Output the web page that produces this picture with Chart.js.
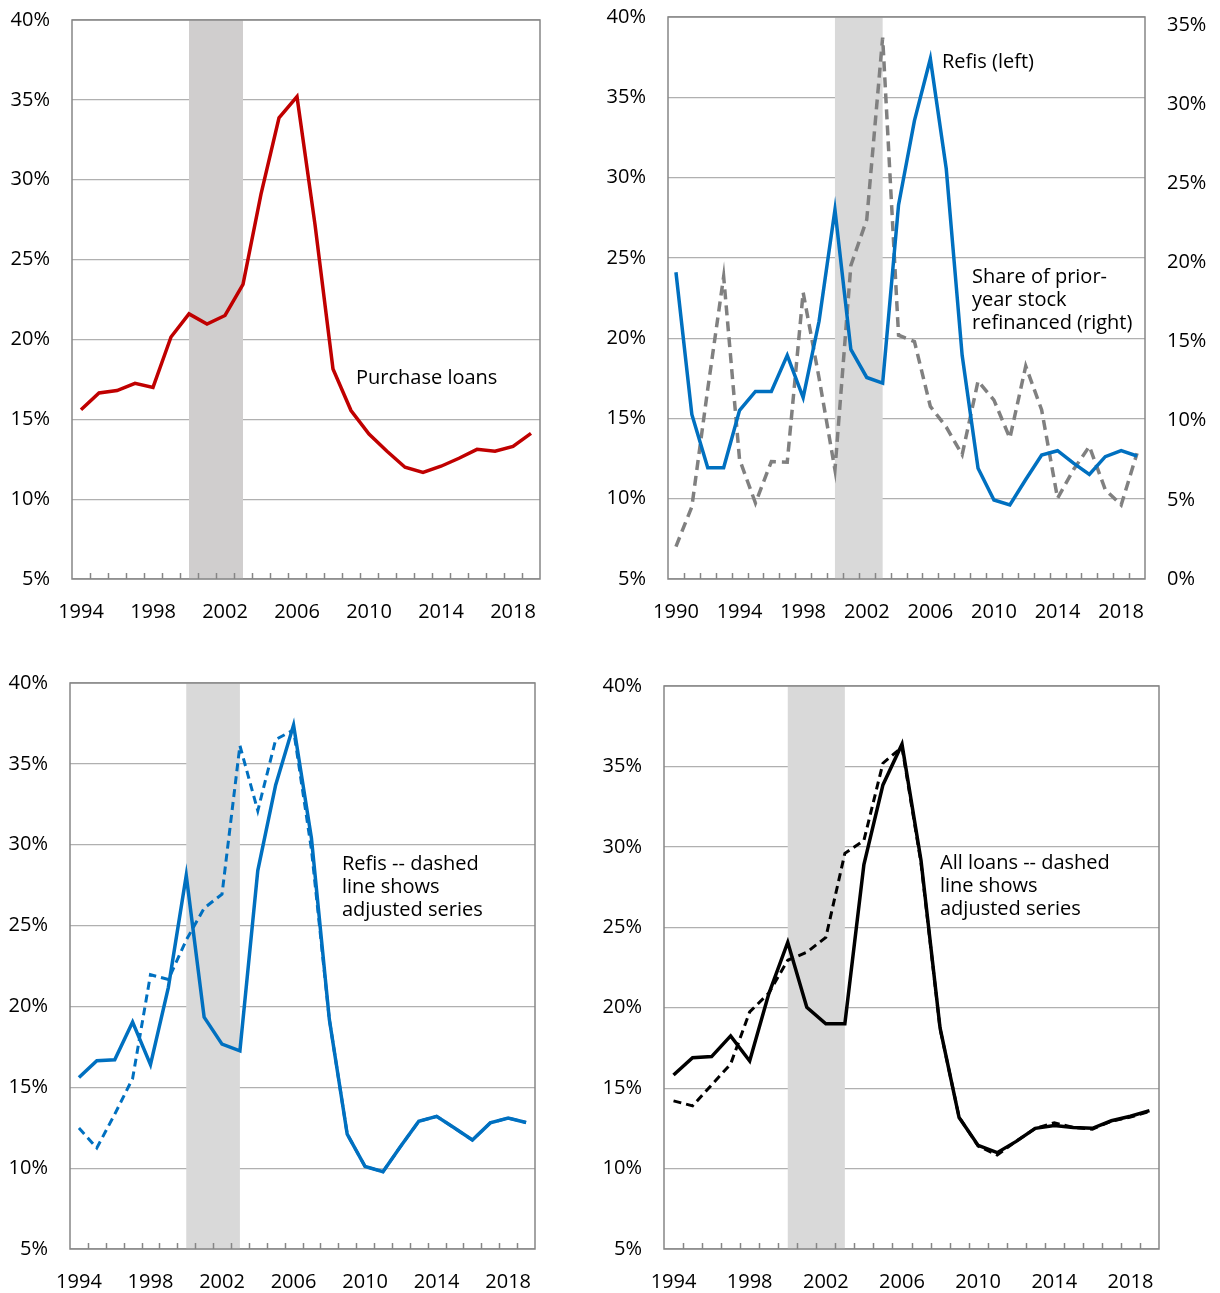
<!DOCTYPE html>
<html>
<head>
<meta charset="utf-8">
<script src="https://cdn.jsdelivr.net/npm/chart.js@4.4.1/dist/chart.umd.min.js"></script>
<style>
  body { margin: 0; background: #fff; }
  #wrap { position: relative; width: 1220px; height: 1293px; }
  canvas { position: absolute; }
</style>
</head>
<body>
<div id="wrap">
  <canvas id="c1" width="560" height="630" style="left:0;top:0"></canvas>
  <canvas id="c2" width="620" height="630" style="left:600px;top:0"></canvas>
  <canvas id="c3" width="560" height="653" style="left:0;top:640px"></canvas>
  <canvas id="c4" width="620" height="653" style="left:600px;top:640px"></canvas>
</div>
<script>
const years94 = ["1994","1995","1996","1997","1998","1999","2000","2001","2002","2003","2004","2005","2006",
    "2007","2008","2009","2010","2011","2012","2013","2014","2015","2016","2017","2018","2019"];
const years90 = ["1990","1991","1992","1993"].concat(years94);

const leftTicks = [5, 10, 15, 20, 25, 30, 35, 40];
const rightTicks = [0, 5, 10, 15, 20, 25, 30, 35];

// top left
const purchaseLoans = [15.6, 16.65, 16.8, 17.25, 17.0, 20.15, 21.6, 20.96, 21.5, 23.45, 29.1, 33.88, 35.2,
    27.2, 18.15, 15.55, 14.07, 13.0, 12.0, 11.68, 12.06, 12.56, 13.12, 13.0, 13.3, 14.12];

// top right, 1990-2019
const refisLeft = [24.1, 15.25, 11.93, 11.93, 15.5, 16.68, 16.68, 18.93, 16.3, 21.05, 28.0, 19.3, 17.55, 17.2,
    28.3, 33.55, 37.4, 30.55, 18.93, 11.9, 9.92, 9.62, 11.2, 12.72, 12.99, 12.22, 11.52, 12.62, 12.99, 12.66];
const shareRefinanced = [2.05, 4.57, 12.0, 19.1, 7.55, 4.8, 7.42, 7.38, 18.1, 12.7, 6.9, 19.8, 22.7, 34.2,
    15.4, 15.0, 10.9, 9.6, 7.85, 12.5, 11.3, 8.9, 13.45, 10.68, 5.1, 6.9, 8.38, 5.65, 4.67, 7.95];

// bottom left
const refis = [15.6, 16.64, 16.7, 19.04, 16.4, 21.18, 28.1, 19.34, 17.67, 17.25, 28.4, 33.7, 37.4,
    30.4, 19.2, 12.1, 10.1, 9.78, 11.37, 12.9, 13.2, 12.48, 11.74, 12.8, 13.1, 12.82];
const refisAdjusted = [12.48, 11.25, 13.33, 15.54, 21.96, 21.67, 24.1, 26.08, 26.94, 36.13, 32.1, 36.5, 37.1,
    29.7, 19.2, 12.1, 10.1, 9.78, 11.37, 12.9, 13.2, 12.48, 11.74, 12.8, 13.1, 12.82];

// bottom right
const allLoans = [15.82, 16.89, 16.96, 18.25, 16.69, 20.85, 24.07, 20.03, 19.0, 19.0, 28.9, 33.85, 36.38,
    29.15, 18.74, 13.17, 11.44, 10.99, 11.69, 12.5, 12.68, 12.55, 12.5, 12.97, 13.25, 13.6];
const allLoansAdjusted = [14.21, 13.9, 15.2, 16.5, 19.74, 20.9, 22.95, 23.45, 24.37, 29.6, 30.4, 35.2, 36.2,
    29.0, 18.7, 13.2, 11.4, 10.85, 11.7, 12.5, 12.85, 12.55, 12.45, 12.95, 13.2, 13.55];

Chart.defaults.font.family = '"Open Sans", sans-serif';
Chart.defaults.font.size = 20;
Chart.defaults.color = "#000";

// shaded 2000-2003 band, border box, inward ticks and text notes
const decor = {
    id: "decor",
    beforeDatasetsDraw(chart, args, opts) {
        const a = chart.chartArea;
        const x = chart.scales.x;
        const labels = chart.data.labels;
        const x1 = x.getPixelForValue(labels.indexOf("2000"));
        const x2 = x.getPixelForValue(labels.indexOf("2003"));
        const ctx = chart.ctx;
        ctx.save();
        ctx.fillStyle = opts.shade;
        ctx.fillRect(x1, a.top, x2 - x1, a.bottom - a.top);
        ctx.restore();
    },
    afterDatasetsDraw(chart, args, opts) {
        const a = chart.chartArea;
        const x = chart.scales.x;
        const n = chart.data.labels.length;
        const ctx = chart.ctx;
        ctx.save();
        ctx.strokeStyle = "#868686";
        ctx.lineWidth = 1.5;
        ctx.beginPath();
        for (let i = 1; i < n; i++) {
            const px = Math.round((x.getPixelForValue(i - 1) + x.getPixelForValue(i)) / 2) + 0.5;
            ctx.moveTo(px, a.bottom);
            ctx.lineTo(px, a.bottom - 6);
        }
        ctx.stroke();
        ctx.strokeRect(a.left, a.top, a.right - a.left, a.bottom - a.top);

        ctx.fillStyle = "#000";
        ctx.font = '20px "Open Sans", sans-serif';
        ctx.textBaseline = "middle";
        ctx.textAlign = "left";
        (opts.notes || []).forEach(note => {
            note.lines.forEach((line, i) => {
                ctx.fillText(line, note.x, note.y + i * 23);
            });
        });
        ctx.restore();
    }
};

function xAxis(height, startYear) {
    return {
        type: "category",
        offset: true,
        grid: { display: false, drawTicks: false },
        border: { display: false },
        ticks: {
            autoSkip: false,
            maxRotation: 0,
            padding: 21,
            callback: function(value) {
                const year = parseInt(this.getLabelForValue(value), 10);
                return (year - startYear) % 4 === 0 ? String(year) : null;
            }
        },
        afterFit: scale => { scale.height = height; }
    };
}

function yAxis(width, position, min, max, tickValues, grid) {
    return {
        position: position,
        min: min,
        max: max,
        grid: {
            display: grid,
            drawOnChartArea: grid,
            drawTicks: false,
            color: "#b0b0b0",
            lineWidth: 1.25
        },
        border: { display: false },
        ticks: {
            padding: 22,
            callback: v => v + "%"
        },
        afterBuildTicks: scale => { scale.ticks = tickValues.map(v => ({ value: v })); },
        afterFit: scale => {
            scale.width = width;
            // let layout.padding alone decide the plot top
            scale.paddingTop = 0;
            scale.paddingBottom = 0;
        }
    };
}

function line(data, color, width, dash, axis) {
    return {
        data: data,
        borderColor: color,
        borderWidth: width,
        borderDash: dash || [],
        pointRadius: 0,
        tension: 0,
        fill: false,
        yAxisID: axis || "y",
        borderCapStyle: "butt",
        borderJoinStyle: "miter"
    };
}

function baseOptions(padding, scales, decorOpts) {
    return {
        responsive: false,
        animation: false,
        layout: { padding: padding },
        scales: scales,
        plugins: {
            legend: { display: false },
            tooltip: { enabled: false },
            decor: decorOpts
        }
    };
}

new Chart(document.getElementById("c1"), {
    type: "line",
    data: {
        labels: years94,
        datasets: [line(purchaseLoans, "#c00000", 3.5)]
    },
    options: baseOptions({ top: 20, right: 20, left: 0, bottom: 0 }, {
        x: xAxis(51, 1994),
        y: yAxis(72, "left", 5, 40, leftTicks, true)
    }, {
        shade: "#d0cece",
        notes: [{ x: 356, y: 378, lines: ["Purchase loans"] }]
    }),
    plugins: [decor]
});

new Chart(document.getElementById("c2"), {
    type: "line",
    data: {
        labels: years90,
        datasets: [
            line(refisLeft, "#0070c0", 3.5),
            line(shareRefinanced, "#808080", 3.5, [10, 6], "y2")
        ]
    },
    options: baseOptions({ top: 17, right: 0, left: 0, bottom: 0 }, {
        x: xAxis(51, 1990),
        y: yAxis(68, "left", 5, 40, leftTicks, true),
        y2: yAxis(75, "right", 0, 35.5, rightTicks, false)
    }, {
        shade: "#d9d9d9",
        notes: [
            { x: 342, y: 62, lines: ["Refis (left)"] },
            { x: 372, y: 277, lines: ["Share of prior-", "year stock", "refinanced (right)"] }
        ]
    }),
    plugins: [decor]
});

new Chart(document.getElementById("c3"), {
    type: "line",
    data: {
        labels: years94,
        datasets: [
            line(refis, "#0070c0", 3.5),
            line(refisAdjusted, "#0070c0", 3, [8, 5])
        ]
    },
    options: baseOptions({ top: 43, right: 25, left: 0, bottom: 0 }, {
        x: xAxis(44, 1994),
        y: yAxis(70, "left", 5, 40, leftTicks, true)
    }, {
        shade: "#d9d9d9",
        notes: [{ x: 342, y: 224, lines: ["Refis -- dashed", "line shows", "adjusted series"] }]
    }),
    plugins: [decor]
});

new Chart(document.getElementById("c4"), {
    type: "line",
    data: {
        labels: years94,
        datasets: [
            line(allLoans, "#000000", 3.5),
            line(allLoansAdjusted, "#000000", 3, [8, 5])
        ]
    },
    options: baseOptions({ top: 46, right: 61, left: 0, bottom: 0 }, {
        x: xAxis(44, 1994),
        y: yAxis(64, "left", 5, 40, leftTicks, true)
    }, {
        shade: "#d9d9d9",
        notes: [{ x: 340, y: 223, lines: ["All loans -- dashed", "line shows", "adjusted series"] }]
    }),
    plugins: [decor]
});
</script>
</body>
</html>
